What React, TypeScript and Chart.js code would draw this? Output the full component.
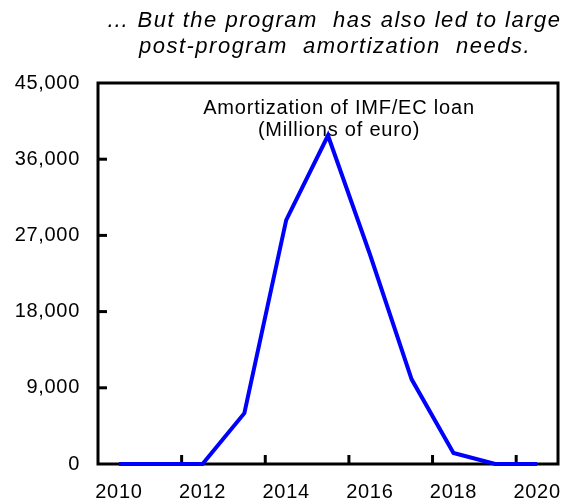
import React, { useEffect, useRef } from 'react';
import { Chart, registerables } from 'chart.js';

Chart.register(...registerables);

const years = ['2010', '2011', '2012', '2013', '2014', '2015', '2016', '2017', '2018', '2019', '2020'];
const amortization = [0, 0, 0, 6000, 28800, 38800, 24800, 10000, 1300, 0, 0];
const yTicks = [0, 9000, 18000, 27000, 36000, 45000];
const titleLines = ['\u2026 But the program  has also led to large', 'post-program  amortization  needs.'];
const noteLines = ['Amortization of IMF/EC loan', '(Millions of euro)'];

const FONT = '"Liberation Sans", Arial, sans-serif';

export default function App() {
  const ref = useRef<HTMLCanvasElement>(null);

  useEffect(() => {
    if (!ref.current) return;

    const deco = {
      id: 'deco',
      beforeDraw(chart: any) {
        (chart.ctx as any).letterSpacing = '0.7px';
      },
      beforeDatasetsDraw(chart: any) {
        const { ctx, chartArea: a, scales } = chart;
        ctx.save();
        ctx.strokeStyle = '#000';
        ctx.lineWidth = 3;
        ctx.strokeRect(a.left, a.top, a.right - a.left, a.bottom - a.top);
        const y = scales.y;
        yTicks.slice(1, -1).forEach((v) => {
          const py = y.getPixelForValue(v);
          ctx.beginPath();
          ctx.moveTo(a.left, py);
          ctx.lineTo(a.left + 9, py);
          ctx.stroke();
        });
        const x = scales.x;
        const half = (x.getPixelForValue(1) - x.getPixelForValue(0)) / 2;
        for (let i = 2; i < years.length; i += 2) {
          const px = x.getPixelForValue(i) - half;
          ctx.beginPath();
          ctx.moveTo(px, a.bottom);
          ctx.lineTo(px, a.bottom - 9);
          ctx.stroke();
        }
        ctx.fillStyle = '#000';
        ctx.textAlign = 'center';
        ctx.textBaseline = 'alphabetic';
        ctx.font = `20px ${FONT}`;
        (ctx as any).letterSpacing = '0.8px';
        const cx = a.left + 241;
        ctx.fillText(noteLines[0], cx, a.top + 31);
        ctx.fillText(noteLines[1], cx, a.top + 53);
        ctx.restore();
      },
      afterDraw(chart: any) {
        const { ctx } = chart;
        ctx.save();
        ctx.fillStyle = '#000';
        ctx.textAlign = 'center';
        ctx.textBaseline = 'alphabetic';
        ctx.font = `italic 22px ${FONT}`;
        (ctx as any).letterSpacing = '1.5px';
        ctx.fillText(titleLines[0], 334, 27);
        ctx.fillText(titleLines[1], 335, 53);
        ctx.restore();
        (ctx as any).letterSpacing = '0px';
      },
    };

    const chart = new Chart(ref.current, {
      type: 'line',
      data: {
        labels: years,
        datasets: [
          {
            data: amortization,
            borderColor: '#0000FF',
            borderWidth: 4,
            pointRadius: 0,
            tension: 0,
            fill: false,
            clip: false as any,
          },
        ],
      },
      options: {
        animation: false,
        responsive: false,
        layout: { padding: { left: 0, right: 15, top: 83, bottom: 0 } },
        plugins: { legend: { display: false }, tooltip: { enabled: false }, title: { display: false } },
        scales: {
          x: {
            type: 'category',
            offset: true,
            grid: { display: false, drawTicks: false },
            border: { display: false },
            afterFit: (s: any) => {
              s.height = 39;
              s.paddingLeft = 0;
              s.paddingRight = 0;
            },
            ticks: {
              autoSkip: false,
              maxRotation: 0,
              padding: 16,
              color: '#000',
              font: { family: FONT, size: 20 },
              callback: (_v: any, i: number) => (i % 2 === 0 ? years[i] : ''),
            },
          },
          y: {
            min: 0,
            max: 45000,
            grid: { display: false, drawTicks: false },
            border: { display: false },
            afterFit: (s: any) => {
              s.width = 98;
              s.paddingTop = 0;
              s.paddingBottom = 0;
            },
            ticks: {
              stepSize: 9000,
              padding: 18,
              color: '#000',
              font: { family: FONT, size: 20 },
              callback: (v: any) => Number(v).toLocaleString('en-US'),
            },
          },
        },
      },
      plugins: [deco],
    });
    return () => chart.destroy();
  }, []);

  return (
    <div style={{ position: 'fixed', left: 0, top: 0, width: 573, height: 503, background: '#fff' }}>
      <canvas ref={ref} width={573} height={503} style={{ display: 'block', width: 573, height: 503 }} />
    </div>
  );
}
